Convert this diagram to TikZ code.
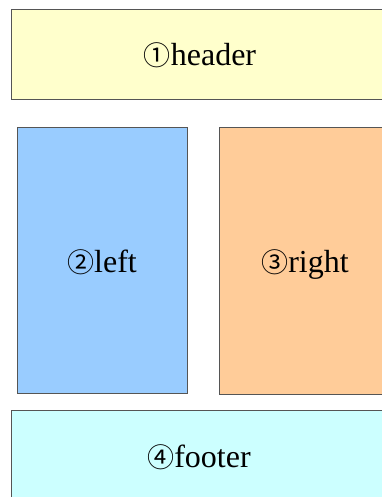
\documentclass[tikz,border=0pt]{standalone}
\usepackage{fontspec}
\setmainfont{Liberation Serif}
\newfontfamily\circfont{Noto Sans CJK JP}
\newcommand{\circd}[1]{{\fontsize{27}{30}\circfont #1}}
\definecolor{hdr}{HTML}{FFFFCC}
\definecolor{lft}{HTML}{99CCFF}
\definecolor{rgt}{HTML}{FFCC99}
\definecolor{ftr}{HTML}{CCFFFF}
\definecolor{edge}{HTML}{555555}
\begin{document}
\begin{tikzpicture}[x=1pt,y=-1pt,
  box/.style={draw=edge,line width=0.9pt,rectangle,inner sep=0pt,anchor=north west},
  lbl/.style={anchor=base,inner sep=0pt,font=\fontsize{32}{36}\selectfont}]
\useasboundingbox (0,0) rectangle (382,497);
\clip (0,0) rectangle (382,497);
\fill[white] (0,0) rectangle (382,497);
\node[box,fill=hdr,minimum width=378pt,minimum height=90pt] (header) at (11,9) {};
\node[box,fill=lft,minimum width=170pt,minimum height=266pt] (left) at (17,127) {};
\node[box,fill=rgt,minimum width=172pt,minimum height=267pt] (right) at (219,127) {};
\node[box,fill=ftr,minimum width=378pt,minimum height=100pt] (footer) at (11,410) {};
\node[lbl] (headertext) at (200,66) {\circd{①}header};
\node[lbl] (lefttext) at (102,272) {\circd{②}left};
\node[lbl] (righttext) at (305,272) {\circd{③}right};
\node[lbl] (footertext) at (199,467) {\circd{④}footer};
\end{tikzpicture}
\end{document}
